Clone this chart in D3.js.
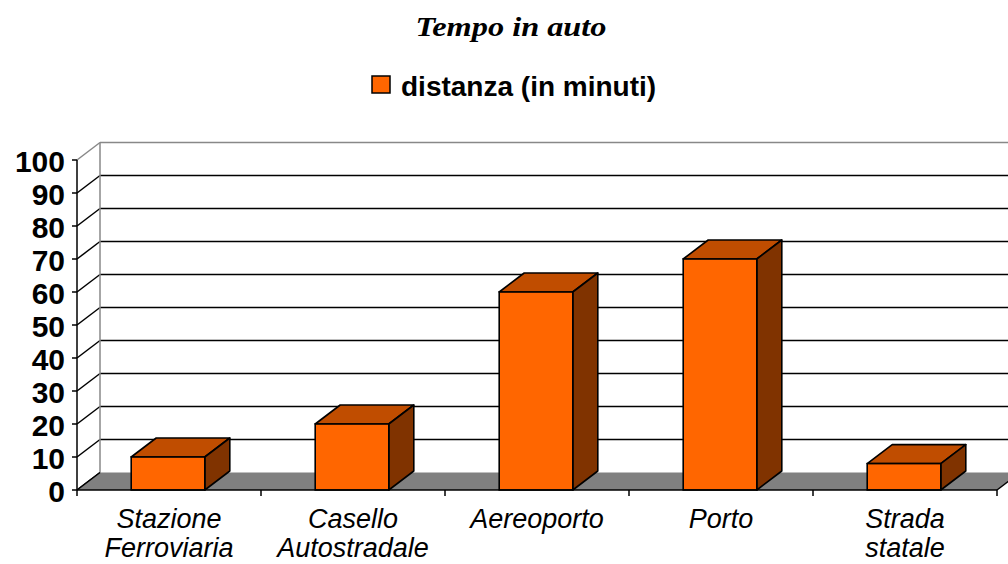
<!DOCTYPE html>
<html><head><meta charset="utf-8">
<script src="https://cdn.jsdelivr.net/npm/d3@7"></script>
<style>body{margin:0;background:#fff} svg{display:block}</style>
</head><body><svg id="c" width="1008" height="564"></svg>
<script>
const title = "Tempo in auto";
const seriesName = "distanza (in minuti)";
const categories = ["Stazione Ferroviaria", "Casello Autostradale", "Aereoporto", "Porto", "Strada statale"];
const values = [10, 20, 60, 70, 8];
const yTicks = [0, 10, 20, 30, 40, 50, 60, 70, 80, 90, 100];

const svg = d3.select("#c");
const x = d3.scaleBand().domain(categories).range([77, 997]).padding(0);
const y = d3.scaleLinear().domain([0, 100]).range([490, 160]);
const wdx = 23, wdy = -17.5;   // wall depth
const bdx = 25, bdy = -19;     // bar depth
const bw = x.bandwidth() * 0.4;
const xL = x.range()[0], xR = x.range()[1];

// back wall
svg.append("rect").attr("x", xL + wdx).attr("y", y(100) + wdy)
  .attr("width", xR - xL).attr("height", y(0) - y(100)).attr("fill", "#fff");
// gridlines on back wall
svg.selectAll("line.grid").data(yTicks.filter(v => v > 0 && v < 100)).join("line")
  .attr("class", "grid")
  .attr("x1", xL + wdx).attr("x2", xR + wdx + 20)
  .attr("y1", d => y(d) + wdy).attr("y2", d => y(d) + wdy)
  .attr("stroke", "#000").attr("stroke-width", 1.5);
// top border of wall
svg.append("line").attr("x1", xL + wdx).attr("x2", xR + wdx + 20)
  .attr("y1", y(100) + wdy).attr("y2", y(100) + wdy)
  .attr("stroke", "#888").attr("stroke-width", 1.5);
// left wall diagonals
svg.selectAll("line.diag").data(yTicks).join("line")
  .attr("class", "diag")
  .attr("x1", xL).attr("y1", d => y(d))
  .attr("x2", xL + wdx).attr("y2", d => y(d) + wdy)
  .attr("stroke", d => d === 100 ? "#888" : "#000").attr("stroke-width", 1.5);
// left wall back edge
svg.append("line").attr("x1", xL + wdx).attr("x2", xL + wdx)
  .attr("y1", y(100) + wdy).attr("y2", y(0) + wdy)
  .attr("stroke", "#888").attr("stroke-width", 1.5);
// floor
svg.append("polygon")
  .attr("points", [[xL, y(0)], [xR, y(0)], [xR + wdx, y(0) + wdy], [xL + wdx, y(0) + wdy]].join(" "))
  .attr("fill", "#808080");
svg.append("line").attr("x1", xR).attr("y1", y(0)).attr("x2", xR + wdx).attr("y2", y(0) + wdy)
  .attr("stroke", "#000").attr("stroke-width", 1.5);
svg.append("line").attr("x1", xL).attr("y1", y(0)).attr("x2", xL + wdx).attr("y2", y(0) + wdy)
  .attr("stroke", "#000").attr("stroke-width", 1.5);

// bars
const bars = svg.selectAll("g.bar").data(values).join("g").attr("class", "bar");
const bx = (d, i) => x(categories[i]) + (x.bandwidth() - bw) / 2 - 1;
bars.append("polygon")
  .attr("points", (d, i) => {
    const x0 = bx(d, i), yv = y(d);
    return [[x0, yv], [x0 + bdx, yv + bdy], [x0 + bw + bdx, yv + bdy], [x0 + bw, yv]].join(" ");
  })
  .attr("fill", "#C04D00").attr("stroke", "#000").attr("stroke-width", 1.6).attr("stroke-linejoin", "round");
bars.append("polygon")
  .attr("points", (d, i) => {
    const x0 = bx(d, i) + bw, yv = y(d);
    return [[x0, yv], [x0 + bdx, yv + bdy], [x0 + bdx, y(0) + bdy], [x0, y(0)]].join(" ");
  })
  .attr("fill", "#803300").attr("stroke", "#000").attr("stroke-width", 1.6).attr("stroke-linejoin", "round");
bars.append("rect")
  .attr("x", (d, i) => bx(d, i)).attr("y", d => y(d))
  .attr("width", bw).attr("height", d => y(0) - y(d))
  .attr("fill", "#FF6600").attr("stroke", "#000").attr("stroke-width", 1.6);

// y axis
svg.append("line").attr("x1", xL).attr("x2", xL).attr("y1", y(0)).attr("y2", y(100))
  .attr("stroke", "#000").attr("stroke-width", 1.5);
svg.selectAll("line.ytick").data(yTicks).join("line").attr("class", "ytick")
  .attr("x1", xL - 5).attr("x2", xL).attr("y1", d => y(d)).attr("y2", d => y(d))
  .attr("stroke", "#000").attr("stroke-width", 1.5);
svg.selectAll("text.ylab").data(yTicks).join("text").attr("class", "ylab")
  .attr("x", 65).attr("y", d => y(d) + 12)
  .attr("text-anchor", "end")
  .style("font-family", "'Liberation Sans', Arial, sans-serif")
  .style("font-weight", "bold").style("font-size", "30px")
  .text(d => d);

// x axis
svg.append("line").attr("x1", xL).attr("x2", xR).attr("y1", y(0)).attr("y2", y(0))
  .attr("stroke", "#000").attr("stroke-width", 1.5);
const bounds = categories.map(c => x(c)).concat([xR]);
svg.selectAll("line.xtick").data(bounds).join("line").attr("class", "xtick")
  .attr("x1", d => d).attr("x2", d => d).attr("y1", y(0)).attr("y2", y(0) + 6)
  .attr("stroke", "#000").attr("stroke-width", 1.5);
const xl = svg.selectAll("text.xlab").data(categories).join("text").attr("class", "xlab")
  .attr("x", d => x(d) + x.bandwidth() / 2).attr("y", 528)
  .attr("text-anchor", "middle")
  .style("font-family", "'Liberation Sans', Arial, sans-serif")
  .style("font-style", "italic").style("font-size", "27px");
xl.selectAll("tspan").data(d => d.split(" ")).join("tspan")
  .attr("x", function () { return d3.select(this.parentNode).attr("x"); })
  .attr("dy", (d, i) => i === 0 ? 0 : 29)
  .text(d => d);

// title
svg.append("text").attr("x", 511).attr("y", 36).attr("text-anchor", "middle")
  .attr("textLength", 191).attr("lengthAdjust", "spacingAndGlyphs")
  .style("font-family", "'Liberation Serif', 'Times New Roman', serif")
  .style("font-weight", "bold").style("font-style", "italic").style("font-size", "28px")
  .text(title);

// legend
svg.append("rect").attr("x", 372).attr("y", 76).attr("width", 18).attr("height", 17)
  .attr("fill", "#FF6600").attr("stroke", "#000").attr("stroke-width", 1.5);
svg.append("text").attr("x", 401).attr("y", 96)
  .style("font-family", "'Liberation Sans', Arial, sans-serif")
  .style("font-weight", "bold").style("font-size", "28px")
  .text(seriesName);
</script>
</body></html>
